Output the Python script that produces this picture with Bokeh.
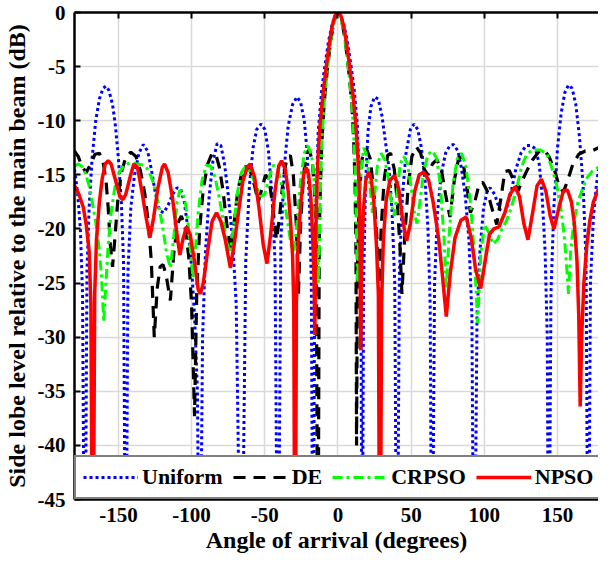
from bokeh.plotting import figure
from bokeh.models import Range1d, FixedTicker, LinearAxis, Legend, LegendItem
from bokeh.embed import file_html
from bokeh.resources import INLINE

FONT = "Liberation Serif"

x_ticks = [-150, -100, -50, 0, 50, 100, 150]
y_ticks = [-45, -40, -35, -30, -25, -20, -15, -10, -5, 0]
series_names = ["Uniform", "DE", "CRPSO", "NPSO"]

# (angle in degrees, level in dB); -60 marks deep nulls hidden below the legend
uniform_pts = [(-180,-14.5),(-178,-16.5),(-176,-20),(-174.5,-26),(-173,-60),(-171.5,-24),(-170,-18),(-168,-13.5),
    (-165.5,-10),(-163,-8),(-160.5,-7),(-158.5,-6.8),(-156.5,-7.2),(-154,-8.5),(-152,-10.5),(-150,-13.5),
    (-148,-17.5),(-146.5,-23),(-145,-60),(-143.5,-24),(-141.5,-18),(-139,-15),(-136,-13),(-133,-12.2),
    (-130,-12.8),(-127.5,-14.5),(-125,-16.5),(-122,-18.3),(-119,-18.5),(-116,-17.8),(-113,-16.8),(-110,-16.2),
    (-107.5,-16.3),(-105,-17.5),(-102.5,-20),(-100,-23.5),(-98,-28),(-96,-35),(-94.5,-60),(-92.5,-30),
    (-90.5,-22),(-88,-17),(-85.5,-13.8),(-82.5,-12.1),(-80,-12.3),(-77.5,-14),(-75,-16.8),(-72,-21),
    (-69.5,-27),(-66,-60),(-63,-23),(-60.5,-16),(-58,-12.5),(-55.5,-10.8),(-52.5,-10.3),(-50,-10.8),
    (-47.5,-12.8),(-45,-17),(-43,-23),(-41,-60),(-39,-21),(-36.5,-14),(-34,-10.5),(-31,-8.5),(-28,-7.8),
    (-25.5,-8.3),(-23,-10),(-21,-13),(-19.5,-17.5),(-18.2,-25),(-17,-60),(-16,-27),(-15,-18),(-13.5,-11),
    (-11,-7),(-9,-5),(-6.5,-2.7),(-4,-1.1),(-2,-0.3),(0,0),(2,-0.3),(4,-1.1),(6.5,-2.7),(9,-5),(11,-7),
    (13.3,-10.5),(14.8,-17),(15.7,-25),(16.5,-60),(17.5,-25),(18.8,-16),(20.5,-11),(22.5,-8.7),(25,-7.8),
    (27.5,-8),(30,-9.5),(32.5,-12),(35,-14.5),(37,-18.5),(38.8,-25),(40.3,-60),(42,-24),(44,-17),(46.5,-13),
    (49.5,-10.8),(52,-10.3),(54.5,-10.8),(57,-12.5),(59.5,-15.5),(61.5,-20),(63,-27),(64.2,-60),(66,-25),
    (68,-18.5),(70.5,-15),(73.5,-13),(76.5,-12.3),(79,-12.2),(82,-12.8),(84.5,-14.5),(87,-17),(89.5,-21),
    (91.5,-28),(93,-60),(95,-28),(97,-22),(99.5,-18),(102,-16.5),(104,-16.2),(107,-16.8),(110.5,-18.2),
    (114.5,-18.4),(118,-16.8),(121.5,-14.5),(125,-13),(128.5,-12.3),(132,-12.3),(135,-12.6),(137.5,-14),
    (139.5,-17),(141.5,-22),(143,-30),(144,-60),(145.5,-26),(147.5,-18),(150,-12.5),(152.5,-9.3),(155,-7.4),
    (157.5,-6.7),(160,-7),(162.5,-8.5),(165,-11.5),(167.5,-16),(169.5,-23),(171,-60),(172.5,-25),
    (174.5,-19),(176.5,-16),(178,-14.5)]

de_pts = [(-180,-12.8),(-177.5,-13.3),(-175,-14.2),(-172,-14.8),(-169,-14.0),(-166,-13.1),(-163,-13.0),
    (-160.5,-13.8),(-158.5,-15.5),(-157,-18),(-155.5,-21.5),(-154,-23.5),(-152.5,-21),(-150.5,-17.5),
    (-148,-14.8),(-145,-13.4),(-141.5,-12.9),(-138,-13.3),(-135,-14.6),(-132,-16.7),(-129.5,-19.5),
    (-127.5,-23),(-125.5,-30),(-123.5,-25.5),(-121.5,-23.5),(-119.5,-23.3),(-117.5,-24.2),(-114.5,-26.6),
    (-112,-22),(-109.5,-19.5),(-107,-18.8),(-104.5,-19.8),(-102,-22.5),(-100,-27),(-98,-37.3),(-96.5,-26),
    (-94.5,-20),(-92,-16.3),(-89,-14),(-86,-13.0),(-83.5,-13.1),(-81,-14.3),(-78.5,-16.5),(-76,-19.5),
    (-73.5,-22),(-71,-19.5),(-68.5,-16.5),(-66,-15),(-63,-14.2),(-60,-14.6),(-57,-16),(-54.5,-17.5),
    (-52,-16.3),(-49.5,-15),(-47,-15.5),(-44.5,-18),(-42,-21),(-40,-19),(-37.5,-15.5),(-35,-13.5),
    (-32.5,-13.2),(-30.5,-15),(-28.5,-19.5),(-27,-26),(-25.5,-19.5),(-23.5,-15),(-21.5,-13),(-19.5,-12.7),
    (-17.5,-13.8),(-16,-16.5),(-14.8,-21),(-13.7,-60),(-12.8,-21),(-12,-16),(-11,-12),(-9.5,-8.5),
    (-7.5,-5.6),(-5.5,-3.2),(-3.5,-1.4),(-1.5,-0.25),(0,0),(1.5,-0.25),(3.5,-1.4),(5.5,-3.2),(7.5,-5.6),
    (9.5,-8.5),(10.8,-12),(11.7,-16),(12.3,-22),(12.7,-40),(13.3,-24),(14.5,-17),(16.5,-13.5),(19.5,-12.6),
    (22,-13.5),(24.5,-16.5),(26.5,-20.5),(28,-26),(29.5,-20),(31.5,-15.5),(34,-13.2),(36,-13.0),
    (38.5,-14.5),(40.5,-17.5),(42.3,-21.5),(43.7,-26),(45.5,-21),(48,-16),(50.5,-13.3),(53.5,-12.4),
    (56.5,-13),(59,-14.5),(61.5,-15),(64.5,-14),(67.5,-13.6),(70.5,-14.4),(73.5,-16.8),(76.5,-18.9),
    (79.5,-15.5),(82.7,-13.3),(85.5,-13.9),(88,-16),(90.5,-18.5),(93.5,-17.5),(96.5,-15.8),(99,-15.7),
    (102,-16.5),(105,-18),(108.5,-19.6),(111.5,-17),(114,-14.7),(117,-14.6),(120,-15.5),(123,-16.5),
    (126,-15.5),(129.5,-14.5),(133,-13.6),(137,-12.9),(141,-12.7),(144.5,-13.4),(148,-14.6),(151,-16),
    (154,-16.6),(157,-15.5),(160.5,-14),(164.5,-13.1),(169,-12.8),(173.5,-12.8),(178,-12.5)]

crpso_pts = [(-180,-14.2),(-177.5,-14.0),(-175,-14.2),(-172.5,-14.9),(-170,-16),(-167.5,-17.8),(-165,-19.8),
    (-163,-22),(-161.5,-24.5),(-160,-28.6),(-158.5,-25),(-157,-21.5),(-155,-18.5),(-152.5,-16.2),
    (-149.5,-14.8),(-146,-14.1),(-142,-13.9),(-137,-14.0),(-132,-14.1),(-129,-14.7),(-126,-15.8),
    (-123,-17.5),(-120,-19.6),(-117,-22.3),(-114.5,-23.6),(-112,-20.5),(-110,-17.6),(-108,-16.4),
    (-106,-16.6),(-104,-17.8),(-102,-20),(-100.5,-22.5),(-99,-24.5),(-97.5,-22),(-95.5,-18.5),(-93,-15.6),
    (-90,-14.1),(-87,-14.2),(-84,-15.2),(-81,-17.2),(-78,-19.5),(-75.5,-21.5),(-73.5,-22),(-71,-19.5),
    (-68.5,-16.5),(-66,-14.8),(-63.5,-14.3),(-60,-14.7),(-56.5,-15.8),(-53,-17),(-50,-16.8),(-47,-15.2),
    (-44,-14.1),(-41,-14.5),(-38,-16.2),(-35,-18.8),(-32,-21.5),(-30,-22),(-28,-19.5),(-25.5,-15.5),
    (-23,-13),(-20.5,-12.3),(-18,-13.2),(-16,-16),(-14.5,-20),(-13.5,-25),(-12.8,-22),(-12,-16),(-11,-12),
    (-9.5,-8.5),(-7.5,-5.6),(-5.5,-3.2),(-3.5,-1.4),(-1.5,-0.25),(0,0),(1.5,-0.25),(3.5,-1.4),(5.5,-3.2),
    (7.5,-5.6),(9.5,-8.5),(11,-12),(12,-16),(12.8,-22),(13.5,-25),(14.5,-19),(15.8,-14.5),(17.6,-12.5),
    (19.5,-13.2),(21.5,-15.5),(23.5,-18.5),(25,-17),(27,-14),(29.5,-13.0),(32,-13.6),(34.5,-15.5),(37,-18),
    (38.5,-18.8),(40.5,-16.5),(42.5,-14),(45,-13.3),(47.5,-14),(50,-16.2),(52.5,-18.8),(54,-19.5),
    (56,-17.5),(58.5,-14.8),(61.5,-13.1),(64.5,-12.8),(67.5,-13.5),(70,-16),(72.5,-21),(74,-25.5),
    (76,-20.5),(78.5,-16),(81.5,-13.5),(84.5,-13.0),(87.5,-14.3),(90.5,-17.5),(93,-22),(95.5,-28.7),
    (97.5,-22.5),(100,-19.6),(103,-20.3),(106,-21.4),(109,-21),(112,-20),(115,-19.3),(118.5,-18),
    (122,-16.3),(125.5,-14.2),(129,-13.1),(133,-12.7),(138,-12.7),(142.5,-13),(146,-14.3),(149.5,-16),
    (152,-17.8),(154.5,-20.5),(156,-23),(157.5,-26),(159,-22),(161,-19.5),(164,-17.5),(167,-16.3),
    (170,-15.3),(173.5,-14.7),(178,-14.3)]

npso_pts = [(-180,-16.0),(-177,-16.8),(-174,-18.0),(-172,-19.6),(-170,-22),(-168.8,-27),(-167.5,-60),
    (-166.2,-26),(-165,-21),(-163,-17.5),(-161,-15.3),(-159,-14.0),(-157,-13.7),(-155,-14.0),(-152,-15.5),
    (-149,-17.0),(-147,-17.3),(-145,-16.8),(-142,-15.2),(-139.5,-14.0),(-137,-14.3),(-134,-16.5),
    (-131,-19.0),(-128.5,-20.8),(-126,-19),(-123,-16.2),(-120,-14.3),(-118.5,-14.0),(-116,-14.8),
    (-113,-17.2),(-110,-20.5),(-108,-22.4),(-106,-21),(-103.5,-19.8),(-101,-20.5),(-98,-23),(-95.5,-25.6),
    (-94,-26),(-92,-25),(-89,-22),(-86,-19.3),(-83,-18.5),(-80,-19.3),(-77,-21),(-73.5,-23.6),(-71,-21.5),
    (-68,-18.5),(-65,-15.6),(-62,-14.3),(-60,-14.0),(-57,-15.2),(-54,-18),(-51,-21.5),(-48.5,-23.2),
    (-46,-20.5),(-43,-16.5),(-40.5,-14.2),(-38.5,-13.7),(-36,-14.5),(-34,-16.5),(-32.3,-19.5),(-31,-22.5),
    (-30.2,-27),(-29.3,-60),(-28.4,-27),(-27.5,-22),(-25.5,-17.8),(-23.5,-15),(-21.8,-14.3),(-20,-15.0),
    (-18.5,-17.2),(-17.2,-21),(-16.3,-25),(-15.8,-29.8),(-15.2,-21),(-14.3,-15.5),(-13.3,-12.5),(-12,-10),
    (-10,-7.3),(-8,-5),(-6,-3),(-4,-1.3),(-2,-0.3),(0,0),(2,-0.3),(4,-1.3),(6,-3),(8,-5),(10,-7.3),(12,-10),
    (13.3,-12.5),(14.3,-15.5),(15,-21),(15.5,-31.2),(16.2,-23),(17.3,-18.5),(19,-15.5),(21,-14.75),
    (22.7,-15.4),(24.5,-17.5),(26.3,-21.5),(27.6,-26),(28.7,-60),(29.8,-27),(31,-21),(33,-17.3),(35.5,-15.5),
    (38.7,-15.05),(41.5,-16.3),(44,-19),(46.9,-21.1),(49.5,-19.5),(52.5,-16.5),(55.5,-15),(58.7,-14.75),
    (62,-15.5),(65,-17.5),(68.7,-20.8),(71.3,-24.2),(74,-28.1),(76.8,-24),(80,-20.8),(84,-19.2),(87.6,-18.9),
    (91,-20.8),(94,-23.7),(97.5,-25.5),(100.5,-23),(103.5,-20.5),(106.5,-20.0),(110,-19.8),(114,-18.5),
    (117.5,-16.8),(121,-16.1),(124,-17),(127,-19.5),(129.8,-21),(133,-18.5),(136,-16),(139,-15.4),
    (142,-16.5),(145,-18.8),(147.6,-20),(151,-18),(154,-16.5),(156.8,-16.4),(159.5,-17.5),(161.5,-19.5),
    (163.3,-23),(164.5,-28),(165.5,-36.4),(166.5,-30),(168,-25),(170,-21.5),(172,-19.3),(174.5,-17.5),
    (178,-16.3)]

p = figure(width=598, height=557, x_range=Range1d(-180, 178), y_range=Range1d(-45, 0),
           output_backend="svg", toolbar_location=None,
           min_border_left=69, min_border_right=0, min_border_top=12, min_border_bottom=58)
p.outline_line_color = None
p.background_fill_color = "white"
p.border_fill_color = "white"
p.grid.grid_line_color = "#d9d9d9"
p.grid.grid_line_width = 1.5
p.xgrid.ticker = FixedTicker(ticks=x_ticks)
p.ygrid.ticker = FixedTicker(ticks=y_ticks)

p.xaxis.ticker = FixedTicker(ticks=x_ticks)
p.yaxis.ticker = FixedTicker(ticks=y_ticks)
p.xaxis.major_label_overrides = {t: str(t) for t in x_ticks}
p.yaxis.major_label_overrides = {t: str(t) for t in y_ticks}
p.xaxis.axis_label = "Angle of arrival (degrees)"
p.yaxis.axis_label = "Side lobe level relative to the main beam (dB)"
for ax in (p.xaxis[0], p.yaxis[0]):
    ax.axis_line_width = 2.5
    ax.axis_line_color = "black"
    ax.major_tick_in = 6
    ax.major_tick_out = 0
    ax.major_tick_line_width = 2
    ax.minor_tick_line_color = None
    ax.major_label_text_font = FONT
    ax.major_label_text_font_style = "bold"
    ax.major_label_text_font_size = "21px"
    ax.major_label_text_color = "black"
    ax.axis_label_text_font = FONT
    ax.axis_label_text_font_style = "bold"
    ax.axis_label_text_color = "black"
p.xaxis.axis_label_text_font_size = "24px"
p.yaxis.axis_label_text_font_size = "24px"
p.xaxis.major_label_standoff = 8
p.xaxis.axis_label_standoff = 2
p.yaxis.major_label_standoff = 9
p.yaxis.axis_label_standoff = 5

top = LinearAxis(ticker=FixedTicker(ticks=x_ticks), major_label_overrides={t: "" for t in x_ticks},
                 major_label_standoff=0, axis_line_width=2.5, axis_line_color="black",
                 major_tick_in=6, major_tick_out=0, major_tick_line_width=2,
                 minor_tick_line_color=None)
p.add_layout(top, "above")

def xs(pts):
    return [a for a, _ in pts]

def ys(pts):
    return [b for _, b in pts]

r_u = p.line(xs(uniform_pts), ys(uniform_pts), line_color="#0000ff", line_width=3, line_dash="3 3")
r_de = p.line(xs(de_pts), ys(de_pts), line_color="black", line_width=3.2, line_dash="12 8")
r_cr = p.line(xs(crpso_pts), ys(crpso_pts), line_color="#00ff00", line_width=3, line_dash="10 4 3 4")
r_np = p.line(xs(npso_pts), ys(npso_pts), line_color="#ff0000", line_width=3.5)

legend = Legend(items=[LegendItem(label=n, renderers=[r]) for n, r in zip(series_names, [r_u, r_de, r_cr, r_np])],
                orientation="horizontal", location="bottom_left", margin=0, padding=7, spacing=10,
                glyph_width=55, glyph_height=24, label_height=24, label_standoff=4,
                label_text_font=FONT, label_text_font_style="bold", label_text_font_size="22px",
                label_text_color="black", border_line_color="black", border_line_width=2,
                background_fill_color="white", background_fill_alpha=1.0)
p.add_layout(legend, "center")

open("out.html", "w").write(file_html(p, INLINE))
